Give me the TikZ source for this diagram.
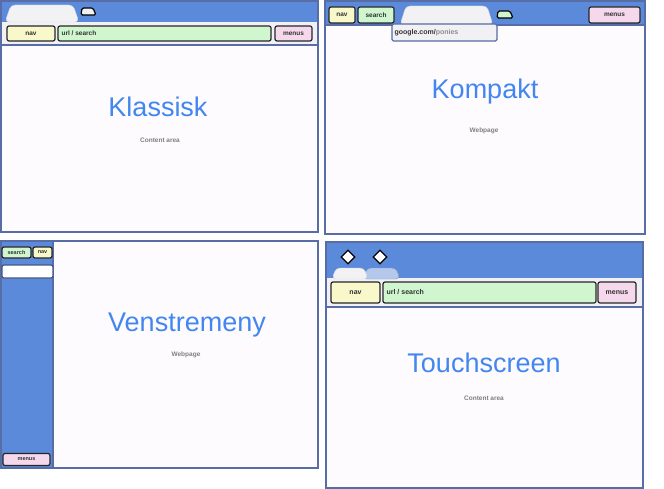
\documentclass[tikz,border=0pt]{standalone}
\usepackage{fontspec}
\setmainfont{Liberation Sans}
\usetikzlibrary{shapes.geometric}

\definecolor{chromeblue}{RGB}{92,138,218}
\definecolor{frameblue}{RGB}{88,108,165}
\definecolor{pagewhite}{RGB}{253,251,254}
\definecolor{stripgray}{RGB}{241,241,245}
\definecolor{tabwhite}{RGB}{242,242,245}
\definecolor{tabblue}{RGB}{180,200,236}
\definecolor{titleblue}{RGB}{66,134,240}
\definecolor{navyellow}{RGB}{248,248,202}
\definecolor{urlgreen}{RGB}{208,246,208}
\definecolor{menupink}{RGB}{246,216,236}

\tikzset{
  panel/.style={draw=frameblue, line width=1.6pt, fill=pagewhite},
  chrome/.style={fill=chromeblue},
  strip/.style={fill=stripgray},
  tab/.style={fill=tabwhite, draw=tabwhite!80!frameblue, line width=0.4pt, rounded corners=4pt},
  tabicon/.style={draw=black, line width=1.2pt, rounded corners=1.5pt},
  btn/.style={draw=black!85, line width=1.2pt, rounded corners=2pt, inner sep=0pt,
    font=\bfseries\fontsize{6.5}{7}\selectfont, text=black!80},
  btntext/.style={anchor=west, inner sep=0pt, font=\bfseries\fontsize{6.5}{7}\selectfont, text=black!80},
  heading/.style={font=\fontsize{27}{30}\selectfont, text=titleblue},
  note/.style={font=\bfseries\fontsize{6.5}{7}\selectfont, text=black!50},
  knob/.style={draw=black, line width=1.3pt, fill=white, diamond, minimum size=14pt, inner sep=0pt}
}

\begin{document}
\begin{tikzpicture}[x=1pt,y=-1pt]
\useasboundingbox (0,0) rectangle (664,489);

% Klassisk
\draw[panel] (1,1) rectangle (318,232);
\fill[chrome] (1,1) rectangle (318,22);
\fill[strip] (1,22) rectangle (318,45);
\draw[frameblue, line width=1.2pt] (1,45) -- (318,45);
\draw[panel, fill=none] (1,1) rectangle (318,232);
\path[tab] (5,22) -- (11,5) -- (73,5) -- (79,22) -- cycle;
\draw[tabicon, fill=tabwhite] (81,15) -- (82,8) -- (93,8) -- (96,15) -- cycle;
\node[btn, fill=navyellow, minimum width=48, minimum height=15] (klnav) at (31,33.5) {nav};
\node[btn, fill=urlgreen, minimum width=213, minimum height=15] (klurl) at (164.5,33.5) {};
\node[btntext] (klurltext) at ([xshift=4]klurl.west) {url / search};
\node[btn, fill=menupink, minimum width=37, minimum height=15] (klmenus) at (293.5,33.5) {menus};
\node[heading] (kltitle) at (158,107) {Klassisk};
\node[note] (klnote) at (160,140) {Content area};

% Kompakt
\draw[panel] (325,1) rectangle (645,234);
\fill[chrome] (325,1) rectangle (645,25);
\draw[frameblue, line width=1.2pt] (325,25) -- (645,25);
\draw[panel, fill=none] (325,1) rectangle (645,234);
\path[tab] (400,25) -- (406,6) -- (487,6) -- (493,25) -- cycle;
\draw[tabicon, fill=urlgreen] (497,18) -- (498,11) -- (510,11) -- (513,18) -- cycle;
\node[btn, fill=navyellow, minimum width=26, minimum height=16] (konav) at (342,15) {nav};
\node[btn, fill=urlgreen, minimum width=36, minimum height=16] (kosearch) at (376,15) {search};
\node[btn, fill=menupink, minimum width=51, minimum height=16] (komenus) at (614.5,15) {menus};
\node[draw=frameblue, line width=1.2pt, fill=stripgray, rounded corners=1.5pt, minimum width=105, minimum height=17, inner sep=0pt] (kodrop) at (444.5,32.5) {};
\node[btntext, font=\bfseries\fontsize{7}{8}\selectfont] (kodroptext) at ([xshift=3]kodrop.west) {google.com/\textcolor{black!45}{ponies}};
\node[heading] (kotitle) at (485,92) {Kompakt};
\node[note] (konote) at (484,131) {Webpage};

% Venstremeny
\draw[panel] (1,241) rectangle (318,468);
\fill[chrome] (1,241) rectangle (53,468);
\draw[frameblue, line width=1.2pt] (53,241) -- (53,468);
\draw[panel, fill=none] (1,241) rectangle (318,468);
\node[btn, fill=urlgreen, minimum width=29, minimum height=11, font=\bfseries\fontsize{5.5}{6}\selectfont] (vesearch) at (16.5,252.5) {search};
\node[btn, fill=navyellow, minimum width=19, minimum height=11, font=\bfseries\fontsize{5.5}{6}\selectfont] (venav) at (42.5,252.5) {nav};
\node[draw=frameblue!80!black, line width=1.2pt, fill=white, rounded corners=2pt, minimum width=51, minimum height=13, inner sep=0pt] (vefield) at (27.5,271.5) {};
\node[btn, fill=menupink, minimum width=47, minimum height=12, font=\bfseries\fontsize{5.5}{6}\selectfont] (vemenus) at (26.5,459.5) {menus};
\node[heading] (vetitle) at (187,325) {Venstremeny};
\node[note] (venote) at (186,355) {Webpage};

% Touchscreen
\draw[panel] (326,242) rectangle (643,488);
\fill[chrome] (326,242) rectangle (643,278);
\fill[strip] (326,278) rectangle (643,307);
\draw[frameblue, line width=1.2pt] (326,307) -- (643,307);
\draw[panel, fill=none] (326,242) rectangle (643,488);
\path[tab, fill=tabblue, draw=frameblue!70] (363,279) -- (367,268) -- (396,268) -- (400,279) -- cycle;
\path[tab] (332,279) -- (336,268) -- (364,268) -- (368,279) -- cycle;
\node[knob] (toknob1) at (348,257) {};
\node[knob] (toknob2) at (380,257) {};
\node[btn, fill=navyellow, minimum width=49, minimum height=21, font=\bfseries\fontsize{7}{8}\selectfont] (tonav) at (355.5,292.5) {nav};
\node[btn, fill=urlgreen, minimum width=213, minimum height=21] (tourl) at (489.5,292.5) {};
\node[btntext, font=\bfseries\fontsize{7}{8}\selectfont] (tourltext) at ([xshift=4]tourl.west) {url / search};
\node[btn, fill=menupink, minimum width=38, minimum height=21, font=\bfseries\fontsize{7}{8}\selectfont] (tomenus) at (617,292.5) {menus};
\node[heading] (totitle) at (484,363) {Touchscreen};
\node[note] (tonote) at (484,398) {Content area};
\end{tikzpicture}
\end{document}
